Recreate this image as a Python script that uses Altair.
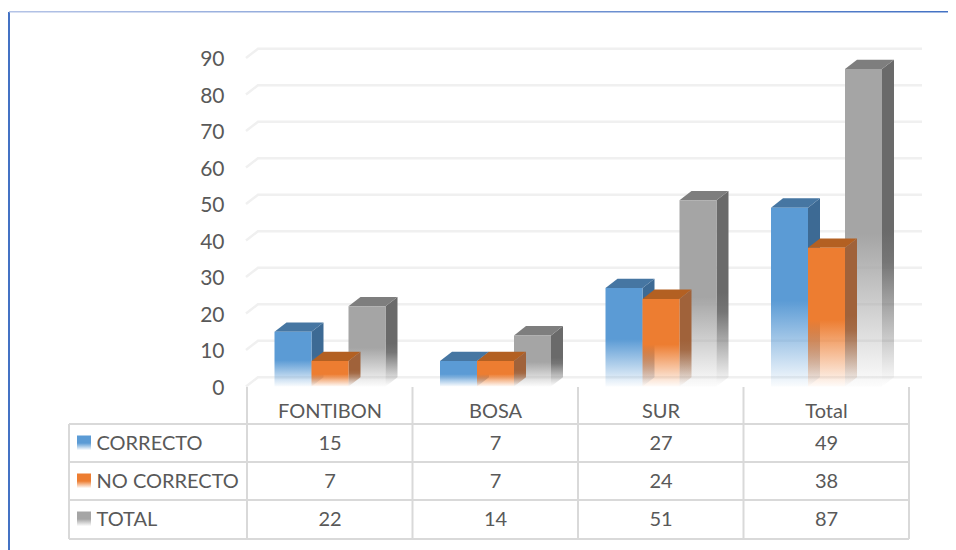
import altair as alt
import pandas as pd

categories = ["FONTIBON", "BOSA", "SUR", "Total"]
series = ["CORRECTO", "NO CORRECTO", "TOTAL"]
correcto = [15, 7, 27, 49]
no_correcto = [7, 7, 24, 38]
total = [22, 14, 51, 87]
values = [correcto, no_correcto, total]
ticks = [0, 10, 20, 30, 40, 50, 60, 70, 80, 90]

FRONT = [(91, 155, 213), (237, 125, 49), (165, 165, 165)]
TOP = ["#4676A2", "#B36022", "#7E7E7E"]
SIDE = [(61, 106, 148), (160, 98, 58), (106, 106, 106)]
GRID = "#F0F0F0"
TABLE = "#D9D9D9"
INK = "#595959"
FONT = "Lato"
SIZE = 20

W, H = 940, 542
GROUP_PX, UNIT_PX = 165.5, 3.65
X0_PX, Y0_PX = 330.0, 386.5


def ux(px):
    return (px - X0_PX) / GROUP_PX


def uy(px):
    return (Y0_PX - px) / UNIT_PX


x_scale = alt.Scale(domain=[ux(8), ux(948)], range=[0, W], zero=False, nice=False)
y_scale = alt.Scale(domain=[uy(550), uy(8)], range=[H, 0], zero=False, nice=False)
y_axis = alt.Axis(values=ticks, domain=False, ticks=False, grid=False, title=None,
                  labelFont=FONT, labelFontSize=21, labelColor=INK,
                  labelPadding=0, labelOffset=1.5, offset=-216, format="d")
BAR = 37 / GROUP_PX
DX = 12 / GROUP_PX
DY = 9.3 / UNIT_PX


def X(f="x", **k):
    return alt.X(f"{f}:Q", scale=x_scale, axis=None, **k)


def Y(f="y", **k):
    return alt.Y(f"{f}:Q", scale=y_scale, axis=y_axis, stack=None, **k)


def rgba(c, a):
    return f"rgba({c[0]},{c[1]},{c[2]},{a})"


def fade(c, mid=0.8, end=0.03):
    return alt.Gradient(
        gradient="linear", x1=0, x2=0, y1=0, y2=1,
        stops=[alt.GradientStop(offset=0, color=rgba(c, 1)),
               alt.GradientStop(offset=0.52, color=rgba(c, 1)),
               alt.GradientStop(offset=0.62, color=rgba(c, mid)),
               alt.GradientStop(offset=1, color=rgba(c, end))],
    )


layers = []

# walls: gridlines
rows = []
for t in ticks:
    for i, (a, b) in enumerate([(ux(246), t), (ux(258), t + DY), (ux(922), t + DY)]):
        rows.append({"x": a, "y": b, "t": t, "o": i})
layers.append(
    alt.Chart(pd.DataFrame(rows)).mark_line(color=GRID, strokeWidth=2.5).encode(
        x=X(), y=Y(), detail="t:N", order="o:Q",
    )
)

# bars: gray first, then blue, then orange (its side lies over the gray front)
for s in [2, 0, 1]:
    side, top, front = [], [], []
    for g, v in enumerate(values[s]):
        x0 = g + (s - 1.5) * BAR
        x1 = x0 + BAR
        side += [{"x": x1, "lo": 0, "hi": v, "g": g},
                 {"x": x1 + DX, "lo": DY, "hi": v + DY, "g": g}]
        top += [{"x": x0, "lo": v, "hi": v, "g": g},
                {"x": x0 + DX, "lo": v, "hi": v + DY, "g": g},
                {"x": x1, "lo": v, "hi": v + DY, "g": g},
                {"x": x1 + DX, "lo": v + DY, "hi": v + DY, "g": g}]
        front.append({"x": x0, "x2": x1, "lo": 0, "hi": v})
    layers.append(alt.Chart(pd.DataFrame(side)).mark_area(
        fill=fade(SIDE[s], mid=0.92, end=0.0), orient="vertical").encode(
        x=X(), y=Y("hi"), y2="lo:Q", detail="g:N"))
    layers.append(alt.Chart(pd.DataFrame(top)).mark_area(
        fill=TOP[s], orient="vertical").encode(
        x=X(), y=Y("hi"), y2="lo:Q", detail="g:N"))
    layers.append(alt.Chart(pd.DataFrame(front)).mark_rect(
        fill=fade(FRONT[s])).encode(
        x=X(), x2="x2:Q", y=Y("hi"), y2="lo:Q"))

# data table grid
y_lines = [uy(424), uy(462), uy(500), uy(539)]
x_lines = [ux(247), ux(412.5), ux(578), ux(743.5), ux(909)]
grid_rows = [{"x": ux(69), "x2": ux(909), "y": y, "y2": y} for y in y_lines]
grid_rows += [{"x": ux(69), "x2": ux(69), "y": y_lines[0], "y2": y_lines[-1]}]
grid_rows += [{"x": x, "x2": x, "y": uy(387), "y2": y_lines[-1]} for x in x_lines]
layers.append(alt.Chart(pd.DataFrame(grid_rows)).mark_rule(color=TABLE, strokeWidth=2).encode(
    x=X(), x2="x2:Q", y=Y(), y2="y2:Q"))

# table text
row_y = [uy(444), uy(482), uy(520)]
head_y = uy(412)
txt = [{"x": g, "y": head_y, "t": c} for g, c in enumerate(categories)]
for s in range(3):
    for g, v in enumerate(values[s]):
        txt.append({"x": g, "y": row_y[s], "t": str(v)})
layers.append(alt.Chart(pd.DataFrame(txt)).mark_text(
    font=FONT, fontSize=SIZE, color=INK, align="center", baseline="middle").encode(
    x=X(), y=Y(), text="t:N"))
leg = [{"x": ux(96.5), "y": row_y[s], "t": series[s]} for s in range(3)]
layers.append(alt.Chart(pd.DataFrame(leg)).mark_text(
    font=FONT, fontSize=SIZE, color=INK, align="left", baseline="middle").encode(
    x=X(), y=Y(), text="t:N"))
for s in range(3):
    k = pd.DataFrame([{"x": ux(77), "x2": ux(91), "hi": row_y[s] + 8.5 / UNIT_PX,
                       "lo": row_y[s] - 6 / UNIT_PX}])
    layers.append(alt.Chart(k).mark_rect(fill=fade(FRONT[s])).encode(
        x=X(), x2="x2:Q", y=Y("hi"), y2="lo:Q"))

# frame
layers.append(alt.Chart(pd.DataFrame({"a": [0]})).mark_rule(color="#4472C4", strokeWidth=2).encode(
    x=alt.value(1), y=alt.value(4), y2=alt.value(H)))
layers.append(alt.Chart(pd.DataFrame({"a": [0]})).mark_rect(
    fill=alt.Gradient(gradient="linear", x1=0, x2=1, y1=0, y2=0,
                      stops=[alt.GradientStop(offset=0, color="#B4C3E6"),
                             alt.GradientStop(offset=1, color="#4472C4")])).encode(
    x=alt.value(1), x2=alt.value(W), y=alt.value(3), y2=alt.value(4.5)))

chart = alt.layer(*layers).properties(
    width=W, height=H, padding=0, background="white",
    autosize=alt.AutoSizeParams(type="pad"),
).configure_view(stroke=None)

chart.save("out.html", embed_options={"renderer": "svg", "actions": False})
